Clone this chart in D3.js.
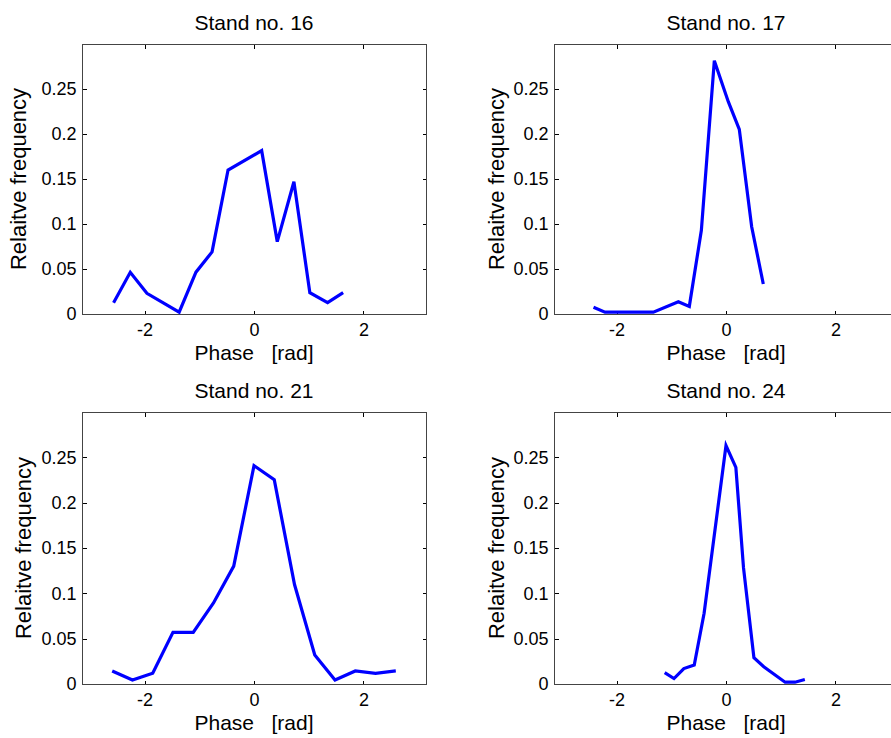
<!DOCTYPE html>
<html>
<head>
<meta charset="utf-8">
<script src="https://cdn.jsdelivr.net/npm/d3@7"></script>
<style>
  html, body { margin: 0; padding: 0; background: #fff; }
  svg { display: block; }
  text { font-family: "Liberation Sans", Arial, Helvetica, sans-serif; fill: #000; }
</style>
</head>
<body>
<svg id="chart" width="891" height="738"></svg>
<script>
// Phase distributions (relative frequency vs. phase) for four stands
const titles = ["Stand no. 16", "Stand no. 17", "Stand no. 21", "Stand no. 24"];

const phase16 = [-2.565, -2.26, -1.956, -1.367, -1.06, -0.766, -0.474, 0.14, 0.425, 0.729, 1.02, 1.344, 1.628];
const freq16  = [0.0126, 0.0463, 0.023, 0.002, 0.0465, 0.069, 0.160, 0.1815, 0.0804, 0.147, 0.0237, 0.0126, 0.0237];

const phase17 = [-2.42, -2.21, -1.327, -0.87, -0.67, -0.45, -0.213, 0.042, 0.243, 0.469, 0.681];
const freq17  = [0.0074, 0.002, 0.002, 0.0137, 0.0085, 0.093, 0.2814, 0.2359, 0.2052, 0.097, 0.0333];

const phase21 = [-2.59, -2.22, -1.85, -1.48, -1.11, -0.74, -0.37, 0, 0.37, 0.74, 1.11, 1.48, 1.85, 2.22, 2.59];
const freq21  = [0.0144, 0.0044, 0.0118, 0.0569, 0.0569, 0.0894, 0.13, 0.2408, 0.2253, 0.1097, 0.0321, 0.0044, 0.0144, 0.0118, 0.0144];

const phase24 = [-1.12, -0.95, -0.77, -0.58, -0.40, 0, 0.18, 0.32, 0.51, 0.69, 1.08, 1.26, 1.44];
const freq24  = [0.0125, 0.006, 0.017, 0.021, 0.078, 0.263, 0.239, 0.128, 0.029, 0.019, 0.002, 0.002, 0.005];

const xTicks = [-2, 0, 2];
const xTickLabels = ["-2", "0", "2"];
const yTicks = [0, 0.05, 0.1, 0.15, 0.2, 0.25];
const yTickLabels = ["0", "0.05", "0.1", "0.15", "0.2", "0.25"];

const xLabel = "Phase   [rad]";
const yLabel = "Relaitve frequency";

const phases = [phase16, phase17, phase21, phase24];
const freqs = [freq16, freq17, freq21, freq24];

// Panel placement (2 x 2 grid)
const panels = [
  { left: 82,  top: 44,  bottom: 314, ylabX: 26 },
  { left: 554, top: 44,  bottom: 314, ylabX: 503.5 },
  { left: 82,  top: 412, bottom: 684, ylabX: 31 },
  { left: 554, top: 412, bottom: 684, ylabX: 503.5 }
];
const panelWidth = 344;

const svg = d3.select("#chart");

panels.forEach((p, i) => {
  const x = d3.scaleLinear().domain([-Math.PI, Math.PI]).range([p.left, p.left + panelWidth]);
  const y = d3.scaleLinear().domain([0, 0.3]).range([p.bottom, p.top]);
  const g = svg.append("g");

  // inward ticks on all four sides
  const axB = g.append("g").attr("transform", `translate(0,${p.bottom + 0.5})`)
    .call(d3.axisBottom(x).tickValues(xTicks).tickFormat((d, k) => xTickLabels[k]).tickSize(-4).tickPadding(9));
  const axT = g.append("g").attr("transform", `translate(0,${p.top + 0.5})`)
    .call(d3.axisTop(x).tickValues(xTicks).tickFormat("").tickSize(-4));
  const axL = g.append("g").attr("transform", `translate(${p.left + 0.5},0)`)
    .call(d3.axisLeft(y).tickValues(yTicks).tickFormat((d, k) => yTickLabels[k]).tickSize(-4).tickPadding(6));
  const axR = g.append("g").attr("transform", `translate(${p.left + panelWidth + 0.5},0)`)
    .call(d3.axisRight(y).tickValues(yTicks).tickFormat("").tickSize(-4));

  [axB, axT, axL, axR].forEach(a => {
    a.select(".domain").remove();
    a.selectAll(".tick line").attr("stroke", "#000").attr("shape-rendering", "crispEdges");
    a.selectAll("text").attr("font-size", 18).attr("font-family", null).attr("fill", "#000");
  });
  axB.selectAll("text").attr("dy", "0.71em");

  // axes box
  g.append("rect")
    .attr("x", p.left + 0.5).attr("y", p.top + 0.5)
    .attr("width", panelWidth).attr("height", p.bottom - p.top)
    .attr("fill", "none").attr("stroke", "#444").attr("stroke-width", 1)
    .attr("shape-rendering", "crispEdges");

  // data curve
  const pts = phases[i].map((v, k) => [v, freqs[i][k]]);
  g.append("path")
    .datum(pts)
    .attr("d", d3.line().x(d => x(d[0])).y(d => y(d[1])))
    .attr("fill", "none")
    .attr("stroke", "#0000ff")
    .attr("stroke-width", 3.2);

  const cx = p.left + panelWidth / 2;

  // title
  g.append("text")
    .attr("x", cx).attr("y", p.top - 14)
    .attr("text-anchor", "middle").attr("font-size", 21)
    .text(titles[i]);

  // x label
  g.append("text")
    .attr("x", cx).attr("y", p.bottom + 45.5)
    .attr("text-anchor", "middle").attr("font-size", 21)
    .style("white-space", "pre")
    .text(xLabel);

  // y label
  g.append("text")
    .attr("transform", `translate(${p.ylabX},${(p.top + p.bottom) / 2}) rotate(-90)`)
    .attr("text-anchor", "middle").attr("font-size", 22)
    .text(yLabel);
});
</script>
</body>
</html>
